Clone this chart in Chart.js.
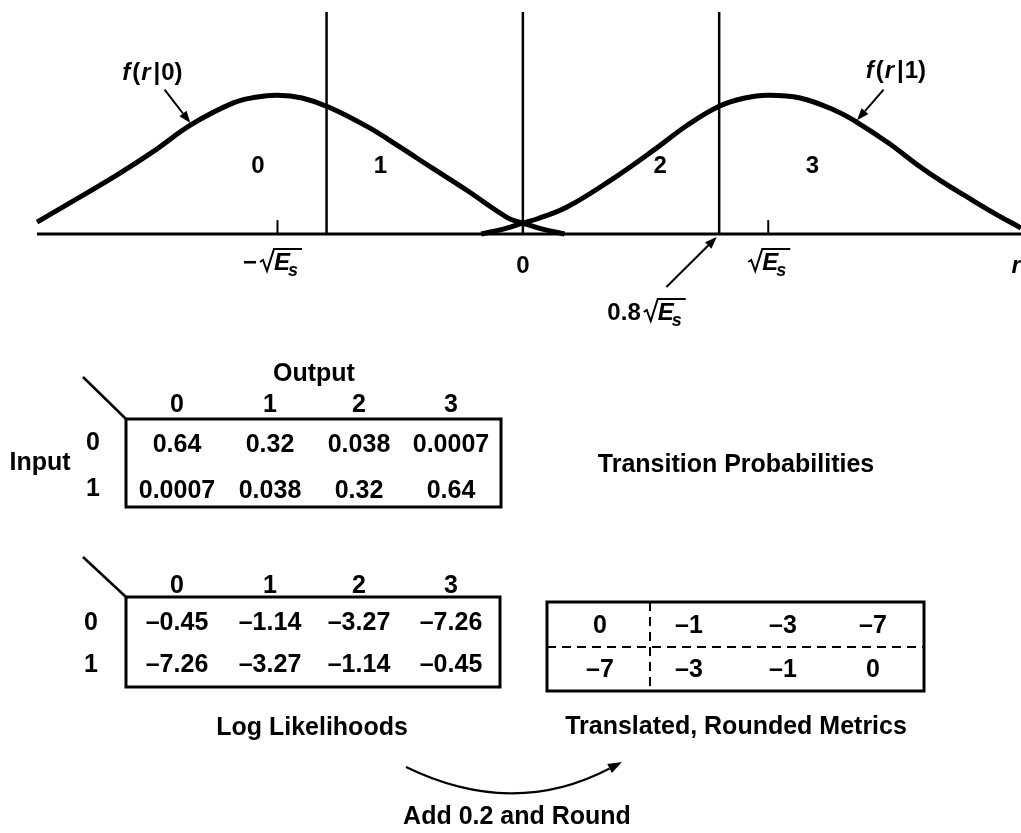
<!DOCTYPE html>
<html>
<head>
<meta charset="utf-8">
<script src="https://cdn.jsdelivr.net/npm/chart.js@4.4.1/dist/chart.umd.min.js"></script>
<style>
  html, body { margin: 0; padding: 0; background: #fff; }
  #page {
    position: relative; width: 1021px; height: 833px; overflow: hidden; background: #fff;
    font-family: 'Liberation Sans', Arial, sans-serif; font-weight: bold; font-size: 25px; color: #000;
  }
  #chartBox { position: absolute; left: 0; top: 0; width: 1021px; height: 340px; }
  #lines { position: absolute; left: 0; top: 0; pointer-events: none; }
  .t { position: absolute; line-height: 25px; white-space: nowrap; transform: translateX(-50%); }
</style>
</head>
<body>
<div id="page">
  <div id="chartBox"><canvas id="c"></canvas></div>
  <svg id="lines" width="1021" height="833"></svg>
</div>
<script>
// r axis in units of sqrt(Es), density scaled so the peak is 1
const rMin = -1.98, rMax = 2.03, yMax = 1.6;

// f(r|0)
const f0R = [-1.98, -1.83, -1.65, -1.51, -1.35, -1.18, -1.09, -1.00, -0.90, -0.79, -0.63, -0.50, -0.37, -0.23, -0.06, 0.00, 0.08, 0.17];
const f0V = [0.086, 0.24, 0.43, 0.59, 0.79, 0.945, 0.985, 1.0, 0.98, 0.914, 0.77, 0.626, 0.476, 0.317, 0.115, 0.079, 0.035, 0.0];

// f(r|1)
const f1R = [-0.17, -0.08, 0.00, 0.06, 0.18, 0.36, 0.55, 0.67, 0.80, 0.90, 1.00, 1.13, 1.27, 1.36, 1.49, 1.62, 1.71, 1.81, 1.92, 2.03];
const f1V = [0.0, 0.035, 0.079, 0.11, 0.194, 0.39, 0.626, 0.784, 0.92, 0.978, 1.0, 0.98, 0.892, 0.807, 0.656, 0.483, 0.375, 0.267, 0.151, 0.043];

// decision thresholds and axis ticks
const thresholds = [-0.8, 0, 0.8];
const tickR = [-1, 0, 1];
const regionLabels = ['0', '1', '2', '3'];

// tables
const outputCats = ['0', '1', '2', '3'];
const inputCats = ['0', '1'];
const transProb = [[0.64, 0.32, 0.038, 0.0007], [0.0007, 0.038, 0.32, 0.64]];
const logLik = [[-0.45, -1.14, -3.27, -7.26], [-7.26, -3.27, -1.14, -0.45]];
const metrics = [[0, -1, -3, -7], [-7, -3, -1, 0]];

const BOLD = "bold 24px 'Liberation Sans', Arial, sans-serif";
const ITAL = "italic bold 24px 'Liberation Sans', Arial, sans-serif";
const SUB = "italic bold 18px 'Liberation Sans', Arial, sans-serif";

function sqrtLabel(ctx, prefix, cx, base) {
  ctx.font = BOLD;
  const wp = prefix ? ctx.measureText(prefix).width + 3 : 0;
  ctx.font = ITAL;
  const wE = ctx.measureText('E').width;
  ctx.font = SUB;
  const ws = ctx.measureText('s').width;
  const wr = 14;
  let x0 = cx - (wp + wr + wE + ws) / 2;
  ctx.textAlign = 'left';
  if (prefix) { ctx.font = BOLD; ctx.fillText(prefix, x0, base); x0 += wp; }
  ctx.lineWidth = 2;
  ctx.beginPath();
  ctx.moveTo(x0, base - 8);
  ctx.lineTo(x0 + 3, base - 10);
  ctx.lineTo(x0 + 7, base + 1);
  ctx.lineTo(x0 + wr, base - 21);
  ctx.lineTo(x0 + wr + wE + ws + 2, base - 21);
  ctx.stroke();
  x0 += wr;
  ctx.font = ITAL; ctx.fillText('E', x0, base); x0 += wE;
  ctx.font = SUB; ctx.fillText('s', x0 - 2, base + 6);
}

function fLabel(ctx, digit, cx, base) {
  const runs = [['f', ITAL, 2], ['(', BOLD, 1], ['r', ITAL, 3], ['|', BOLD, 1], [digit, BOLD, 0], [')', BOLD, 0]];
  let w = 0;
  runs.forEach(r => { ctx.font = r[1]; w += ctx.measureText(r[0]).width + r[2]; });
  let x0 = cx - w / 2;
  ctx.textAlign = 'left';
  runs.forEach(r => { ctx.font = r[1]; ctx.fillText(r[0], x0, base); x0 += ctx.measureText(r[0]).width + r[2]; });
}

function arrow(ctx, x1, y1, x2, y2) {
  const a = Math.atan2(y2 - y1, x2 - x1), L = 12, H = 4.5;
  ctx.lineWidth = 2;
  ctx.beginPath(); ctx.moveTo(x1, y1); ctx.lineTo(x2 - L * Math.cos(a), y2 - L * Math.sin(a)); ctx.stroke();
  ctx.beginPath();
  ctx.moveTo(x2, y2);
  ctx.lineTo(x2 - L * Math.cos(a) + H * Math.sin(a), y2 - L * Math.sin(a) - H * Math.cos(a));
  ctx.lineTo(x2 - L * Math.cos(a) - H * Math.sin(a), y2 - L * Math.sin(a) + H * Math.cos(a));
  ctx.closePath(); ctx.fill();
}

const labelsPlugin = {
  id: 'labels',
  afterDatasetsDraw(chart) {
    const { ctx, scales: { x, y } } = chart;
    const X = v => x.getPixelForValue(v), Y = v => y.getPixelForValue(v);
    ctx.save();
    ctx.fillStyle = '#000';
    ctx.strokeStyle = '#000';
    ctx.textBaseline = 'alphabetic';

    // region numbers between the thresholds
    const regionR = [-1.08, -0.58, 0.56, 1.18];
    ctx.font = BOLD; ctx.textAlign = 'center';
    regionLabels.forEach((s, i) => ctx.fillText(s, X(regionR[i]), Y(0.44)));

    // curve names with arrows
    fLabel(ctx, '0', X(-1.51), Y(1.11));
    arrow(ctx, X(-1.46), Y(1.04), X(-1.355), Y(0.80));
    fLabel(ctx, '1', X(1.52), Y(1.125));
    arrow(ctx, X(1.47), Y(1.04), X(1.362), Y(0.82));

    // axis labels
    const base = Y(0) + 36;
    tickR.forEach(t => {
      if (t === 0) { ctx.font = BOLD; ctx.textAlign = 'center'; ctx.fillText('0', X(0), base + 3); }
      else if (t < 0) sqrtLabel(ctx, '\u2212', X(t) - 6, base);
      else sqrtLabel(ctx, '', X(t), base);
    });
    ctx.font = ITAL; ctx.textAlign = 'center';
    ctx.fillText('r', X(2.01), base + 3);

    // threshold label 0.8 sqrt(Es)
    sqrtLabel(ctx, '0.8', X(0.5), Y(0) + 86);
    arrow(ctx, X(0.585), Y(0) + 53, X(0.79), Y(0) + 3);
    ctx.restore();
  }
};

const pts = (rs, vs) => rs.map((r, i) => ({ x: r, y: vs[i] }));
const line = (data, w, extra) => Object.assign({
  data, borderColor: '#000', borderWidth: w, pointRadius: 0, showLine: true, fill: false, clip: false
}, extra || {});

const datasets = [
  line(pts(f0R, f0V), 5, { tension: 0.4 }),
  line(pts(f1R, f1V), 5, { tension: 0.4 }),
  ...thresholds.map(t => line([{ x: t, y: 0 }, { x: t, y: yMax }], 2.5)),
  ...tickR.filter(t => t !== 0).map(t => line([{ x: t, y: 0 }, { x: t, y: 0.1 }], 2)),
  line([{ x: rMin, y: 0 }, { x: rMax, y: 0 }], 3)
];

new Chart(document.getElementById('c'), {
  type: 'scatter',
  data: { datasets },
  options: {
    responsive: true,
    maintainAspectRatio: false,
    animation: false,
    events: [],
    layout: { padding: { left: 37, top: 12, right: 0, bottom: 106 } },
    plugins: { legend: { display: false }, tooltip: { enabled: false } },
    scales: {
      x: { type: 'linear', min: rMin, max: rMax, display: false },
      y: { type: 'linear', min: 0, max: yMax, display: false }
    }
  },
  plugins: [labelsPlugin]
});

// ---- tables ----
const page = document.getElementById('page');
function txt(s, cx, base) {
  const d = document.createElement('div');
  d.className = 't';
  d.textContent = s;
  d.style.left = cx + 'px';
  d.style.top = (base - 21) + 'px';
  page.appendChild(d);
}
const neg = v => (v < 0 ? '\u2013' : '') + Math.abs(v);
const colX = [177, 270, 359, 451];
const colX3 = [600, 689, 783, 873];

txt('Output', 314, 381);
outputCats.forEach((c, i) => txt(c, colX[i], 412));
txt('Input', 40, 470);
inputCats.forEach((c, j) => txt(c, 93, [450, 496][j]));
transProb.forEach((row, j) => row.forEach((v, i) => txt(String(v), colX[i], [452, 498][j])));
txt('Transition Probabilities', 736, 472);

outputCats.forEach((c, i) => txt(c, colX[i], 593));
inputCats.forEach((c, j) => txt(c, 91, [630, 672][j]));
logLik.forEach((row, j) => row.forEach((v, i) => txt('\u2013' + Math.abs(v).toFixed(2), colX[i], [630, 672][j])));
txt('Log Likelihoods', 312, 735);

metrics.forEach((row, j) => row.forEach((v, i) => txt(neg(v), colX3[i], [633, 677][j])));
txt('Translated, Rounded Metrics', 736, 734);
txt('Add 0.2 and Round', 517, 824);

// frames, diagonals, dashed dividers and the curved arrow
const tip = [622, 762], dir = [107, -56];
const dl = Math.hypot(dir[0], dir[1]), ux = dir[0] / dl, uy = dir[1] / dl;
const bx = tip[0] - 14 * ux, by = tip[1] - 14 * uy;
const head = [[tip[0], tip[1]], [bx + 5 * uy, by - 5 * ux], [bx - 5 * uy, by + 5 * ux]].map(p => p.join(',')).join(' ');
document.getElementById('lines').innerHTML = `
  <g stroke="#000" fill="none">
    <line x1="83" y1="377" x2="126" y2="419" stroke-width="2.5"/>
    <rect x="126" y="419" width="375" height="88" stroke-width="3"/>
    <line x1="83" y1="557" x2="126" y2="597" stroke-width="2.5"/>
    <rect x="126" y="597" width="374" height="90" stroke-width="3"/>
    <rect x="547" y="602" width="377" height="89" stroke-width="3"/>
    <line x1="650" y1="602" x2="650" y2="691" stroke-width="2" stroke-dasharray="9 6"/>
    <line x1="547" y1="647" x2="924" y2="647" stroke-width="2" stroke-dasharray="9 6"/>
    <path d="M406 767 Q513 819 ${bx.toFixed(1)} ${by.toFixed(1)}" stroke-width="2"/>
  </g>
  <polygon points="${head}" fill="#000"/>`;
</script>
</body>
</html>
